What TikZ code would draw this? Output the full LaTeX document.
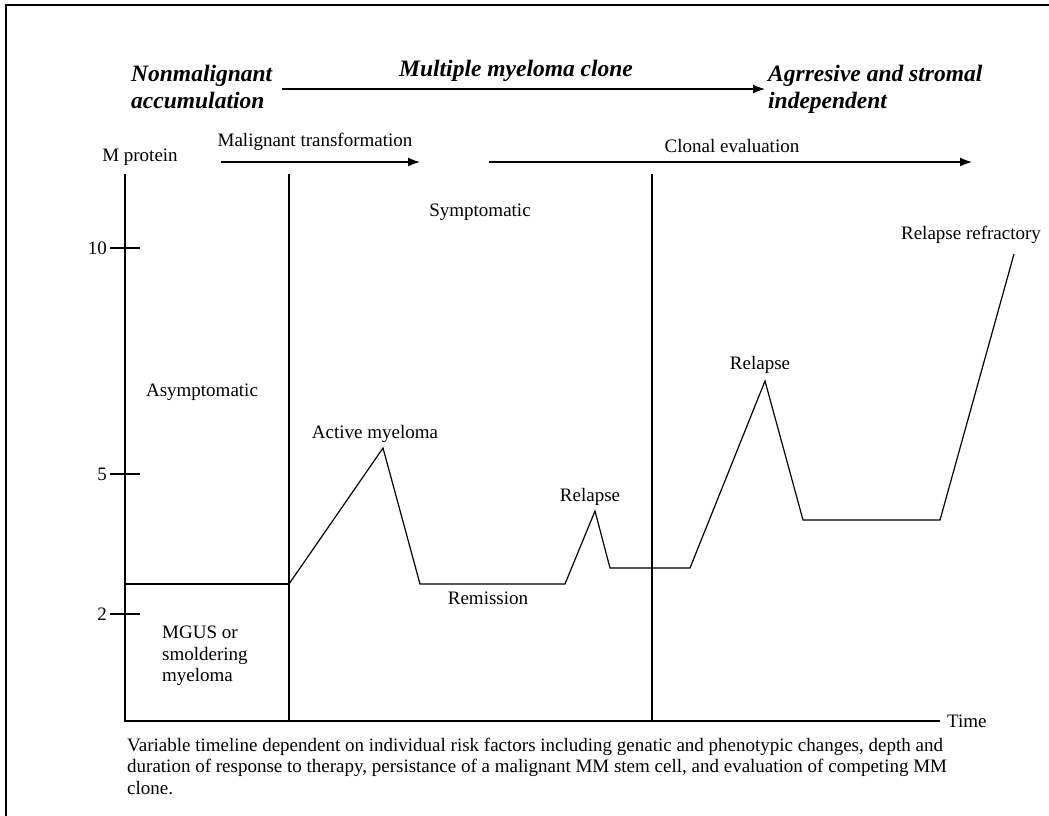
\documentclass[tikz,border=0pt]{standalone}
\usepackage{fontspec}
\setmainfont{Liberation Serif}
\usetikzlibrary{arrows.meta}
\usetikzlibrary{positioning}

\begin{document}
\begin{tikzpicture}[x=1pt,y=-1pt]
  \tikzset{lbl/.style = {font=\fontsize{19}{21.5}\selectfont, inner sep=0pt, align=left}}
  \tikzset{phase/.style = {font=\fontsize{23.5}{27}\selectfont\bfseries\itshape, inner sep=0pt, align=left}}
  \tikzset{edge/.style = {-{Latex[length=12pt,width=9pt]}, line width=1.3pt}}
  \tikzset{axis/.style = {line width=1.2pt}}

  \useasboundingbox (0,0) rectangle (1049,816);
  \draw[axis] (6,816) -- (6,5) -- (1049,5);

  % phases on top
  \node[phase, anchor=west] (nonm) at (131,87) {Nonmalignant\\accumulation};
  \node[phase, anchor=west] (mmc)  at (399,71) {Multiple myeloma clone};
  \node[phase, anchor=west] (aggr) at (768,89) {Agrresive and stromal\\independent};
  \coordinate (t1) at (282,89);
  \coordinate (t2) at (765,89);
  \draw[edge] (t1) -- (t2);

  \node[lbl] (mtrans) at (315,142) {Malignant transformation};
  \node[lbl] (clev)   at (732,146) {Clonal evaluation};
  \coordinate (m1) at (221,162);
  \coordinate (m2) at (420,162);
  \coordinate (c1) at (489,162);
  \coordinate (c2) at (972,162);
  \draw[edge] (m1) -- (m2);
  \draw[edge] (c1) -- (c2);

  % axes
  \coordinate (O)    at (125,721);
  \coordinate (ytop) at (125,174);
  \coordinate (xend) at (940,721);
  \draw[axis] (ytop) -- (O) -- (xend);
  \node[lbl] (mprot) at (140,157) {M protein};
  \node[lbl, right=7pt of xend] (time) {Time};
  \foreach \v/\y in {10/248, 5/474, 2/614} {
    \draw[axis] (110,\y) -- (140,\y);
    \node[lbl, anchor=east] (tick\v) at (107,\y) {\v};
  }

  % stages
  \coordinate (s1) at (289,174);
  \coordinate (s2) at (652,174);
  \draw[axis] (s1) -- (s1 |- O);
  \draw[axis] (s2) -- (s2 |- O);
  \coordinate (mg) at (125,584);
  \draw[axis] (mg) -- (s1 |- mg);

  % M protein course
  \coordinate (p0) at (289,584);
  \coordinate (p1) at (383,448);
  \coordinate (p2) at (420,584);
  \coordinate (p3) at (565,584);
  \coordinate (p4) at (595,511);
  \coordinate (p5) at (610,568);
  \coordinate (p6) at (690,568);
  \coordinate (p7) at (765,381);
  \coordinate (p8) at (803,520);
  \coordinate (p9) at (940,520);
  \coordinate (p10) at (1014,254);
  \draw[axis] (p0) -- (p1) -- (p2) -- (p3) -- (p4) -- (p5) -- (p6) -- (p7) -- (p8) -- (p9) -- (p10);

  \node[lbl] (asym)  at (202,392) {Asymptomatic};
  \node[lbl] (sym)   at (480,212) {Symptomatic};
  \node[lbl] (act)   at (375,434) {Active myeloma};
  \node[lbl] (rem)   at (488,598) {Remission};
  \node[lbl] (rel1)  at (590,497) {Relapse};
  \node[lbl] (rel2)  at (760,365) {Relapse};
  \node[lbl] (relr)  at (971,235) {Relapse refractory};
  \node[lbl, anchor=west] (mgus) at (162,656) {MGUS or\\smoldering\\myeloma};

  \node[lbl, anchor=west] (note) at (127,766) {Variable timeline dependent on individual risk factors including genatic and phenotypic changes, depth and\\duration of response to therapy, persistance of a malignant MM stem cell, and evaluation of competing MM\\clone.};
\end{tikzpicture}
\end{document}
